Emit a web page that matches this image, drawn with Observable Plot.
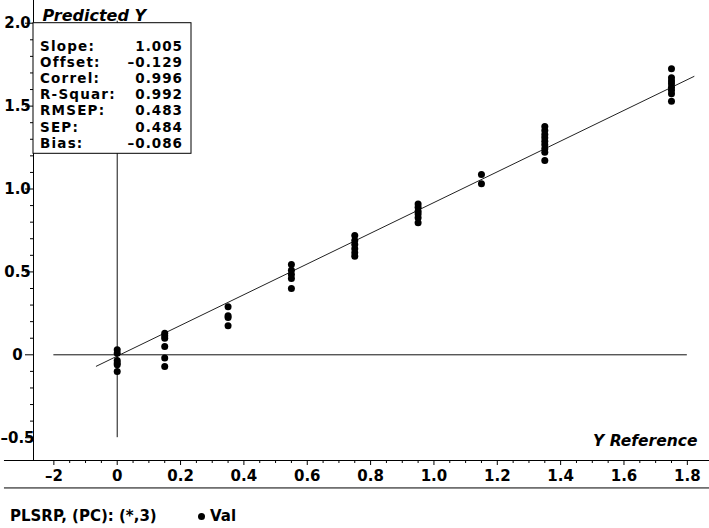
<!DOCTYPE html>
<html><head><meta charset="utf-8">
<script src="https://cdn.jsdelivr.net/npm/d3@7"></script>
<script src="https://cdn.jsdelivr.net/npm/@observablehq/plot@0.6"></script>
<style>
html,body{margin:0;padding:0;background:#fff;}
body{width:709px;height:528px;overflow:hidden;font-family:"DejaVu Sans",sans-serif;}
#caption{position:relative;height:28px;font:bold 15px "DejaVu Sans",sans-serif;color:#000;}
#caption span{position:absolute;top:7px;white-space:pre;}
#caption .dot{display:inline-block;width:7px;height:7px;border-radius:50%;background:#000;position:absolute;}
</style></head>
<body>
<div id="chart"></div>
<div id="caption"><span style="left:10px">PLSRP, (PC): (*,3)</span><i class="dot" style="left:198px;top:13px"></i><span style="left:210px">Val</span></div>
<script>
// Validation points: Y Reference (x) and Predicted Y (y)
const valX = [
  0,0,0,0,0,0,
  0.15,0.15,0.15,0.15,0.15,0.15,
  0.35,0.35,0.35,0.35,
  0.55,0.55,0.55,0.55,0.55,
  0.75,0.75,0.75,0.75,0.75,0.75,
  0.95,0.95,0.95,0.95,0.95,0.95,
  1.15,1.15,
  1.35,1.35,1.35,1.35,1.35,1.35,1.35,1.35,1.35,
  1.75,1.75,1.75,1.75,1.75,1.75,1.75,1.75
];
const valY = [
  0.03,0.01,-0.035,-0.05,-0.06,-0.10,
  0.13,0.115,0.10,0.05,-0.02,-0.07,
  0.29,0.235,0.225,0.175,
  0.545,0.51,0.485,0.46,0.40,
  0.72,0.69,0.665,0.64,0.615,0.595,
  0.91,0.89,0.866,0.85,0.826,0.796,
  1.087,1.031,
  1.377,1.353,1.329,1.309,1.288,1.267,1.243,1.222,1.172,
  1.725,1.671,1.651,1.635,1.614,1.595,1.575,1.53
];
// fitted regression line end points
const fitX = [-0.066, 1.821];
const fitY = [-0.069, 1.679];

// axis ticks
const xMajor = [-0.2,0,0.2,0.4,0.6,0.8,1.0,1.2,1.4,1.6,1.8];
const xMajorLabels = ["\u20132","0","0.2","0.4","0.6","0.8","1.0","1.2","1.4","1.6","1.8"];
const xMinor = d3.range(-4,37).map(i => i*0.05).filter(v => Math.abs(Math.round(v*20)%4) !== 0);
const yMajor = [-0.5,0,0.5,1.0,1.5,2.0];
const yMajorLabels = ["\u20130.5","0","0.5","1.0","1.5","2.0"];
const yMinor = d3.range(-5,21).map(i => i/10).filter(v => Math.round(v*10)%5 !== 0);

// statistics box
const statNames = ["Slope:","Offset:","Correl:","R-Squar:","RMSEP:","SEP:","Bias:"];
const statValues = ["1.005","\u20130.129","0.996","0.992","0.483","0.484","\u20130.086"];

const points = valX.map((x,i)=>({x, y: valY[i]}));
const fit = fitX.map((x,i)=>({x, y: fitY[i]}));

const X_DOM = [-0.2643, 1.870];
const Y_DOM = [-0.6375, 2.137];
const AX_LEFT = -0.356;      // x-axis line starts left of the y axis
const BOTTOM_LINE = -0.803;  // rule below the x tick labels
const FONT = "'DejaVu Sans', sans-serif";

const plot = Plot.plot({
  width: 709, height: 500,
  marginLeft: 33, marginRight: 0, marginTop: 0, marginBottom: 40,
  x: {domain: X_DOM, label: null},
  y: {domain: Y_DOM, label: null},
  style: {fontFamily: FONT, fontWeight: "bold", fontSize: "15px", color: "#000", background: "#fff", overflow: "visible"},
  marks: [
    Plot.ruleY([0], {x1: -0.2, x2: 1.8, stroke: "#111", strokeWidth: 1}),
    Plot.ruleX([0], {y1: -0.5, y2: 2.012, stroke: "#111", strokeWidth: 1}),
    Plot.line(fit, {x: "x", y: "y", stroke: "#222", strokeWidth: 1}),
    Plot.dot(points, {x: "x", y: "y", r: 3.5, fill: "#000", stroke: "none"}),
    Plot.axisX({ticks: xMajor, tickSize: 5, tickPadding: 5, label: null, tickFormat: d => xMajorLabels[xMajor.indexOf(d)], stroke: "#000"}),
    Plot.axisX({ticks: xMinor, tickSize: 3, text: null, label: null, stroke: "#000"}),
    Plot.axisY({ticks: yMajor, tickSize: 8, tickPadding: 8, label: null, textAnchor: "middle", tickFormat: d => yMajorLabels[yMajor.indexOf(d)], stroke: "#000"}),
    Plot.axisY({ticks: yMinor, tickSize: 3, text: null, label: null, stroke: "#000"}),
    Plot.ruleX([X_DOM[0]], {stroke: "#000"}),
    Plot.ruleY([Y_DOM[0]], {x1: AX_LEFT, x2: X_DOM[1], stroke: "#000"}),
    Plot.ruleY([BOTTOM_LINE], {x1: AX_LEFT, x2: X_DOM[1], stroke: "#000"}),
    Plot.text(["Y Reference"], {frameAnchor: "bottom-right", dx: -12, dy: -15, textAnchor: "end", fontStyle: "italic", fontSize: 15.5, fontWeight: "bold"}),
    Plot.text(["Predicted Y"], {frameAnchor: "top-left", dx: 9, dy: 9, textAnchor: "start", fontStyle: "italic", fontSize: 16, fontWeight: "bold"})
  ]
});
document.getElementById("chart").appendChild(plot);

// stats box drawn on top of the plot
const svg = d3.select(plot);
const box = svg.append("g").attr("font-family", FONT).attr("font-weight", "bold").attr("font-size", 13.5);
box.append("rect").attr("x", 33).attr("y", 22.7).attr("width", 158).attr("height", 130.6)
  .attr("fill", "#fff").attr("stroke", "#000").attr("stroke-width", 1);
statNames.forEach((n, i) => {
  const yy = 45.5 + i * 16.2 + 5;
  box.append("text").attr("x", 40).attr("y", yy).attr("text-anchor", "start").attr("letter-spacing", 1.2).text(n);
  box.append("text").attr("x", 183).attr("y", yy).attr("text-anchor", "end").attr("letter-spacing", 1).text(statValues[i]);
});
</script>
</body></html>
